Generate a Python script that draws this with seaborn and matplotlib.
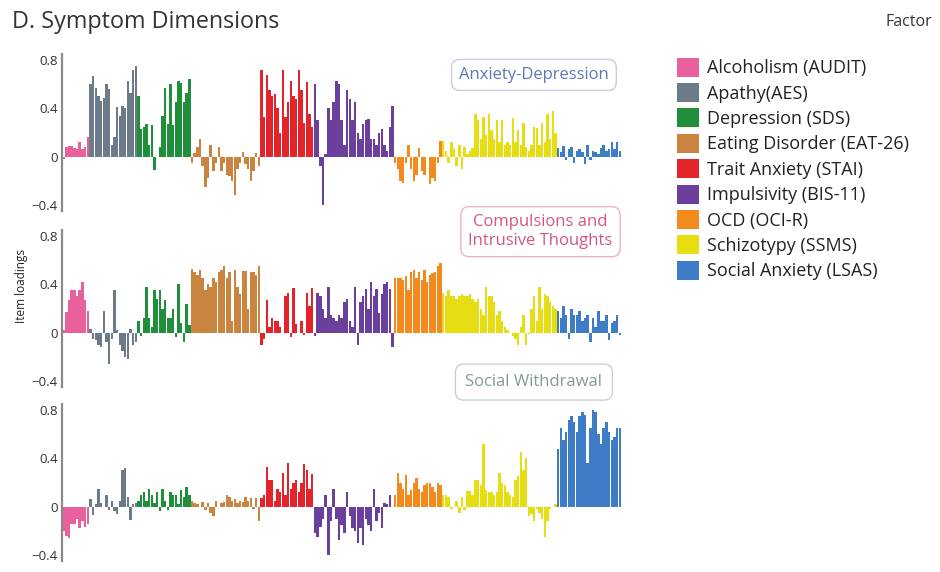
import matplotlib
matplotlib.use("Agg")
import matplotlib.pyplot as plt
from matplotlib.patches import Patch
import seaborn as sns
import pandas as pd

# questionnaires (in plotting order) and their colours
scales = ["Alcoholism (AUDIT)", "Apathy(AES)", "Depression (SDS)", "Eating Disorder (EAT-26)",
          "Trait Anxiety (STAI)", "Impulsivity (BIS-11)", "OCD (OCI-R)", "Schizotypy (SSMS)",
          "Social Anxiety (LSAS)"]
colors = ["#e8609c", "#6c7a89", "#1f8f3c", "#c9843f", "#e3252b", "#6b3f9c", "#f28a1e", "#e6de12", "#3f7cc6"]

# item loadings, factor 1: Anxiety-Depression
ad_audit = [-0.02, 0.08, 0.09, 0.09, 0.07, 0.06, 0.12, 0.06, 0.08, 0.16]
ad_aes = [0.60, 0.67, 0.57, 0.50, 0.46, 0.49, 0.60, 0.56, 0.10, 0.16, 0.41, 0.34, 0.42, 0.40, 0.63, 0.53, 0.72, 0.75]
ad_sds = [0.50, 0.23, 0.25, 0.27, 0.10, 0.26, -0.11, 0.0, 0.08, 0.34, 0.57, 0.27, 0.60, 0.26, 0.45, 0.63, 0.61, 0.45, 0.53, 0.64]
ad_eat = [-0.05, 0.03, 0.08, 0.15, -0.08, -0.25, -0.18, 0.10, -0.12, -0.05, 0.08, -0.12, -0.05, -0.15, -0.16,
          -0.20, -0.32, -0.10, -0.05, 0.04, -0.06, -0.10, -0.20, -0.12, 0.03, -0.08]
ad_stai = [0.72, 0.33, 0.68, 0.55, 0.50, 0.52, 0.40, 0.20, 0.72, 0.33, 0.45, 0.63, 0.50, 0.48, 0.72, 0.55, 0.28, 0.62, 0.35, 0.25]
ad_bis = [0.60, 0.30, -0.08, -0.40, 0.02, 0.40, 0.30, 0.45, 0.63, 0.60, 0.30, 0.10, 0.55, 0.48, 0.30,
          0.45, 0.20, 0.15, 0.27, 0.30, 0.31, 0.15, 0.15, 0.10, 0.20, 0.23, 0.10, 0.05, 0.25, 0.42]
ad_oci = [-0.05, -0.10, -0.20, -0.22, -0.05, 0.10, -0.10, -0.20, -0.15, 0.07, -0.12, -0.15, 0.0, -0.23, -0.18, -0.20, -0.05, 0.13]
ad_ssms = [0.13, 0.05, -0.05, 0.12, 0.06, -0.08, 0.10, -0.10, 0.08, 0.02, 0.05, 0.07, 0.35, 0.30, 0.15,
           0.33, 0.18, 0.35, 0.22, 0.15, 0.30, 0.12, 0.30, 0.10, 0.12, 0.10, 0.32, 0.12, 0.22, 0.10,
           0.28, 0.08, 0.05, 0.10, 0.25, 0.24, 0.10, 0.28, 0.12, 0.35, 0.15, 0.38, 0.20]
ad_lsas = [0.07, 0.04, 0.09, -0.03, 0.06, 0.08, -0.05, 0.05, 0.06, 0.04, -0.06, 0.10, -0.03, 0.05, 0.04,
           0.02, 0.07, 0.10, 0.05, 0.06, 0.12, 0.06, 0.12, 0.05]

# factor 2: Compulsions and Intrusive Thoughts
ci_audit = [0.02, 0.17, 0.27, 0.35, 0.35, 0.30, 0.35, 0.42, 0.27, 0.18]
ci_aes = [0.03, -0.05, -0.06, -0.10, -0.12, 0.18, -0.08, -0.26, -0.05, 0.35, 0.02, -0.10, -0.15, -0.20, -0.22, 0.03, -0.10, -0.08]
ci_sds = [0.10, -0.03, 0.12, 0.38, 0.12, 0.05, 0.35, 0.28, 0.35, 0.20, 0.27, 0.12, 0.12, 0.20, -0.04, 0.40, 0.08, -0.08, 0.24, 0.06]
ci_eat = [0.53, 0.50, 0.48, 0.52, 0.45, 0.35, 0.40, 0.38, 0.45, 0.42, 0.50, 0.52, 0.55, 0.45, 0.50, 0.10,
          0.52, 0.38, 0.32, 0.51, 0.51, 0.20, 0.50, 0.50, 0.48, 0.55]
ci_stai = [-0.10, -0.05, 0.27, 0.05, 0.12, 0.10, 0.10, 0.05, 0.0, 0.30, 0.33, -0.04, 0.37, 0.07, 0.0, 0.10, -0.02, 0.33, 0.22, 0.37]
ci_bis = [-0.03, 0.33, 0.30, 0.20, 0.12, 0.38, 0.15, 0.12, 0.10, 0.15, 0.12, 0.25, 0.28, 0.10, 0.05,
          0.38, -0.10, 0.25, 0.30, 0.36, 0.20, 0.42, 0.30, 0.36, 0.16, 0.32, 0.40, 0.42, 0.36, -0.12]
ci_oci = [0.45, 0.45, 0.45, 0.44, 0.47, 0.35, 0.50, 0.52, 0.45, 0.50, 0.44, 0.52, 0.42, 0.48, 0.49, 0.50, 0.55, 0.58]
ci_ssms = [0.33, 0.30, 0.35, 0.30, 0.30, 0.28, 0.30, 0.32, 0.30, 0.30, 0.32, 0.28, 0.25, 0.28, 0.20,
           0.15, 0.38, 0.30, 0.30, 0.25, 0.15, 0.18, 0.10, 0.05, 0.02, 0.0, -0.03, -0.05, -0.10, 0.05,
           0.15, -0.10, -0.01, 0.20, 0.30, 0.10, 0.38, 0.20, 0.32, 0.30, 0.25, 0.22, 0.20]
ci_lsas = [0.18, 0.12, 0.22, 0.15, -0.05, 0.20, 0.15, 0.15, 0.18, 0.10, 0.12, 0.15, -0.08, 0.12, 0.05,
           0.18, 0.10, 0.10, 0.15, -0.06, 0.08, 0.10, 0.15, -0.02]

# factor 3: Social Withdrawal
sw_audit = [-0.20, -0.24, -0.26, -0.14, -0.14, -0.10, -0.18, -0.12, -0.17, -0.14]
sw_aes = [0.06, -0.07, 0.02, 0.15, 0.03, 0.0, 0.10, -0.03, 0.05, -0.04, -0.06, 0.05, 0.30, 0.32, 0.08, -0.11, 0.02, 0.03]
sw_sds = [0.05, 0.10, 0.12, 0.05, 0.15, 0.10, 0.03, 0.12, -0.04, 0.15, 0.05, -0.03, 0.12, 0.10, 0.10, 0.02, 0.14, 0.08, 0.16, 0.10]
sw_eat = [0.05, 0.03, 0.02, 0.0, 0.04, -0.03, 0.03, -0.05, -0.08, 0.05, 0.0, 0.03, 0.04, 0.10, 0.08,
          0.05, 0.06, 0.03, 0.05, 0.04, 0.08, 0.05, 0.07, -0.02, 0.07, -0.12]
sw_stai = [0.07, 0.10, 0.33, 0.22, 0.22, 0.05, 0.15, 0.12, 0.28, 0.10, 0.36, 0.15, 0.20, 0.22, 0.12, 0.20, 0.35, 0.30, 0.15, 0.27]
sw_bis = [-0.22, -0.25, -0.17, -0.10, 0.10, -0.40, -0.12, 0.15, -0.10, -0.28, -0.15, -0.22, 0.12, -0.08, -0.18,
          -0.20, -0.30, -0.18, -0.32, -0.10, -0.15, -0.20, 0.15, -0.12, -0.05, -0.18, 0.03, 0.02, 0.10, 0.0]
sw_oci = [0.10, 0.28, 0.20, 0.15, 0.26, 0.10, 0.14, 0.20, 0.24, 0.15, 0.12, 0.18, 0.20, 0.20, 0.16, 0.12, 0.20, 0.18]
sw_ssms = [0.10, 0.10, 0.08, -0.02, 0.0, 0.05, -0.05, 0.08, -0.03, 0.13, 0.13, 0.10, 0.22, 0.22, 0.18,
           0.52, 0.14, 0.12, 0.12, 0.10, 0.12, 0.28, 0.20, 0.18, 0.12, 0.10, 0.08, 0.22, 0.25, 0.45,
           0.30, 0.40, -0.08, -0.06, -0.12, -0.02, -0.05, -0.10, -0.25, -0.12, -0.02, 0.0, 0.02]
sw_lsas = [0.48, 0.65, 0.55, 0.62, 0.72, 0.75, 0.70, 0.62, 0.75, 0.78, 0.76, 0.36, 0.65, 0.80, 0.78,
           0.60, 0.52, 0.65, 0.70, 0.62, 0.55, 0.58, 0.65, 0.65]

factors = {
    "Anxiety-Depression": [ad_audit, ad_aes, ad_sds, ad_eat, ad_stai, ad_bis, ad_oci, ad_ssms, ad_lsas],
    "Compulsions and\nIntrusive Thoughts": [ci_audit, ci_aes, ci_sds, ci_eat, ci_stai, ci_bis, ci_oci, ci_ssms, ci_lsas],
    "Social Withdrawal": [sw_audit, sw_aes, sw_sds, sw_eat, sw_stai, sw_bis, sw_oci, sw_ssms, sw_lsas],
}
label_colors = ["#5b78bd", "#d4567f", "#849a9a"]
box_edges = ["#c4cde3", "#eab3c6", "#c9d0d0"]
# label box centres in figure fractions
box_pos = [(0.568, 0.869), (0.575, 0.595), (0.568, 0.332)]
box_pads = [0.45, 0.45, 0.6]


def make_df(groups):
    rows = []
    i = 0
    for name, vals in zip(scales, groups):
        for v in vals:
            rows.append({"item": i, "loading": v, "scale": name})
            i += 1
    return pd.DataFrame(rows)


sns.set_style("white")
plt.rcParams["font.family"] = ["Open Sans", "DejaVu Sans"]

fig = plt.figure(figsize=(9.4, 5.72), dpi=100)
# axes rectangles (left, bottom, width, height)
rects = [[0.066, 0.631, 0.595, 0.2745], [0.066, 0.3234, 0.595, 0.2745], [0.066, 0.0192, 0.595, 0.2745]]
palette = dict(zip(scales, colors))

for k, (fname, groups) in enumerate(factors.items()):
    ax = fig.add_axes(rects[k])
    df = make_df(groups)
    sns.barplot(data=df, x="item", y="loading", hue="scale", palette=palette, dodge=False,
                width=0.9, linewidth=0, saturation=1, legend=False, ax=ax)
    ax.set_xlim(-0.6, len(df) - 0.4)
    ax.set_ylim(-0.45, 0.85)
    ax.set_xticks([])
    ax.set_yticks([0.8, 0.4, 0, -0.4])
    ax.set_yticklabels(["0.8", "0.4", "0", "\u22120.4"], fontsize=9.5, color="#333333")
    ax.tick_params(axis="y", length=0, pad=3)
    ax.set_xlabel("")
    ax.set_ylabel("")
    for s in ["top", "right", "bottom"]:
        ax.spines[s].set_visible(False)
    ax.spines["left"].set_color("#8a8a8a")
    ax.spines["left"].set_linewidth(1.6)
    ax.patch.set_alpha(0)
    fig.text(box_pos[k][0], box_pos[k][1], fname, ha="center", va="center",
             fontsize=12, color=label_colors[k], linespacing=1.25, zorder=5,
             bbox=dict(boxstyle="round,pad=%s,rounding_size=0.5" % box_pads[k], fc="white",
                       ec=box_edges[k], lw=1.0))

fig.text(0.023, 0.5, "Item loadings", rotation=90, ha="center", va="center", fontsize=8.5, color="#222222")
fig.text(0.013, 0.962, "D. Symptom Dimensions", ha="left", va="center", fontsize=16.8, color="#333333")
fig.text(0.942, 0.962, "Factor", ha="left", va="center", fontsize=11.5, color="#333333")

handles = [Patch(facecolor=c, edgecolor="none") for c in colors]
fig.legend(handles, scales, loc="upper left", bbox_to_anchor=(0.712, 0.912), frameon=False,
           fontsize=13, handlelength=1.25, handleheight=1.25, handletextpad=0.45, labelspacing=0.32,
           borderaxespad=0, labelcolor="#222222")

fig.savefig("out.png", dpi=100)
